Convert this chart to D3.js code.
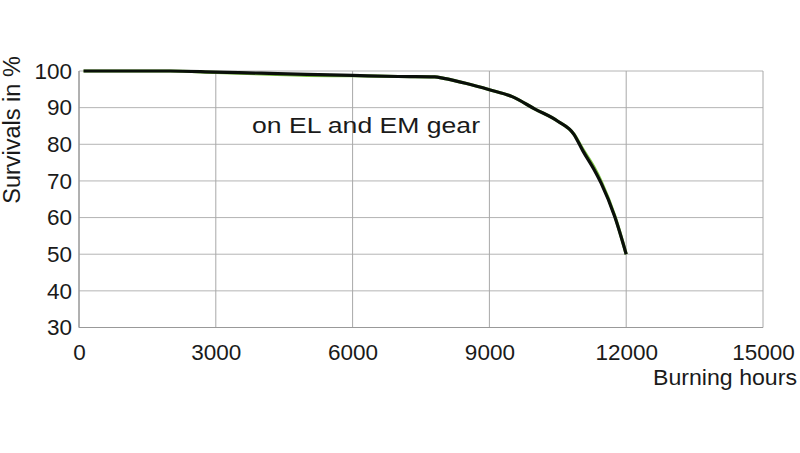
<!DOCTYPE html>
<html><head><meta charset="utf-8">
<script src="https://cdn.jsdelivr.net/npm/d3@7"></script>
<style>body{margin:0;background:#fff;}svg{display:block;font-family:"Liberation Sans",Arial,sans-serif;}</style>
</head><body>
<svg id="c" width="800" height="453"></svg>
<script>
const hours = [100, 2000, 3000, 4000, 5000, 6000, 7000, 7800, 8000, 8500, 9000, 9500, 10000, 10500, 10850, 11050, 11300, 11450, 11750, 12000];
const survivalBlack = [100, 100, 99.7, 99.4, 99.1, 98.8, 98.5, 98.4, 98.0, 96.6, 94.9, 93.0, 89.6, 86.3, 82.8, 78.2, 73.0, 69.4, 60.2, 50];
const survivalGreen = [100, 100, 99.6, 99.2, 98.8, 98.7, 98.5, 98.4, 98.0, 96.6, 94.9, 93.0, 89.6, 86.3, 82.8, 78.6, 73.6, 69.9, 60.4, 50];
const xTicks = [0, 3000, 6000, 9000, 12000, 15000];
const yTicks = [30, 40, 50, 60, 70, 80, 90, 100];
const xLabel = "Burning hours";
const yLabel = "Survivals in %";
const note = "on EL and EM gear";

const svg = d3.select("#c");
const L = 79, R = 763, T = 71, B = 327.5;
const x = d3.scaleLinear().domain([0, 15000]).range([L, R]);
const y = d3.scaleLinear().domain([30, 100]).range([B, T]);
const txt = "#1a1a1a";

// grid
svg.append("g").selectAll("line").data(yTicks).join("line")
  .attr("x1", L).attr("x2", R).attr("y1", d => y(d)).attr("y2", d => y(d))
  .attr("stroke", "#b4b4b4").attr("stroke-width", 1);
svg.append("g").selectAll("line").data(xTicks).join("line")
  .attr("x1", d => x(d)).attr("x2", d => x(d)).attr("y1", T).attr("y2", B)
  .attr("stroke", "#a8a8a8").attr("stroke-width", 1);
svg.append("line").attr("x1", L).attr("x2", L).attr("y1", T).attr("y2", B).attr("stroke", "#999").attr("stroke-width", 1.2);
svg.append("line").attr("x1", L).attr("x2", R).attr("y1", B).attr("y2", B).attr("stroke", "#999").attr("stroke-width", 1.2);

// axes (labels)
const xa = svg.append("g").attr("transform", `translate(0,${B})`)
  .call(d3.axisBottom(x).tickValues(xTicks).tickSize(0).tickPadding(0).tickFormat(d3.format("d")));
xa.select(".domain").remove();
xa.selectAll("text").attr("font-size", 22.5).attr("fill", txt).attr("dy", null).attr("y", 32.5)
  .attr("font-family", "Liberation Sans, Arial, sans-serif");
const ya = svg.append("g").attr("transform", `translate(${L},0)`)
  .call(d3.axisLeft(y).tickValues(yTicks).tickSize(0).tickPadding(7));
ya.select(".domain").remove();
ya.selectAll("text").attr("font-size", 22.5).attr("fill", txt).attr("font-family", "Liberation Sans, Arial, sans-serif");

svg.append("text").attr("x", 797).attr("y", 385).attr("text-anchor", "end")
  .attr("font-size", 22).attr("fill", txt).attr("textLength", 144).attr("lengthAdjust", "spacingAndGlyphs").text(xLabel);
svg.append("text").attr("transform", "translate(20,130) rotate(-90)").attr("text-anchor", "middle")
  .attr("font-size", 23.5).attr("fill", txt).text(yLabel);
svg.append("text").attr("x", 252).attr("y", 133).attr("font-size", 22.5).attr("fill", txt)
  .attr("textLength", 228).attr("lengthAdjust", "spacingAndGlyphs").text(note);

const line = d3.line().x((d, i) => x(hours[i])).y(d => y(d)).curve(d3.curveMonotoneX);
svg.append("path").datum(survivalGreen).attr("d", line).attr("fill", "none")
  .attr("stroke", "#7cc242").attr("stroke-width", 3.2);
svg.append("path").datum(survivalBlack).attr("d", line).attr("fill", "none")
  .attr("stroke", "#0a0f0a").attr("stroke-width", 3.2).attr("stroke-linejoin", "round");
</script>
</body></html>
